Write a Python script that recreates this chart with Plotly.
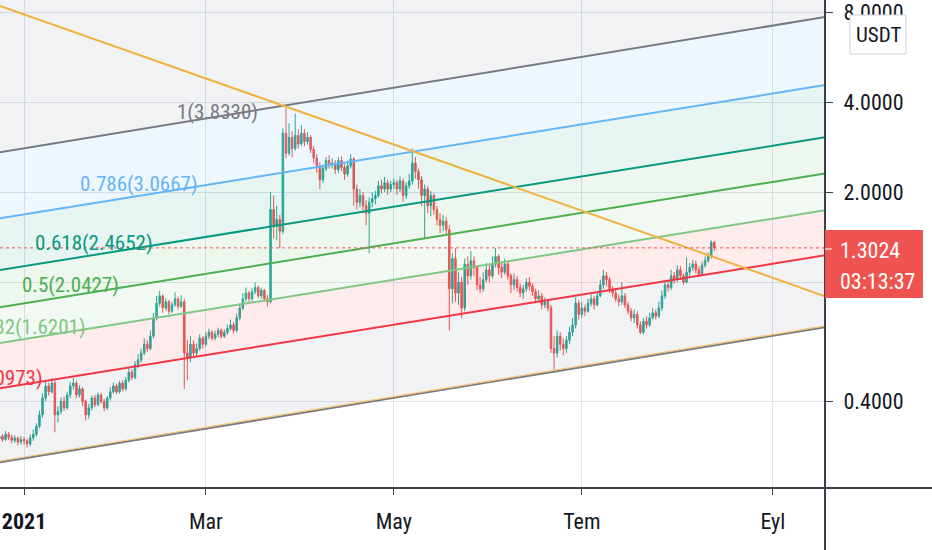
import pandas as pd
import plotly.graph_objects as go

# bougies journalières : 23 déc 2020 -> 13 août 2021
first_open = 0.296
closes = [
    # dec
    0.300, 0.305, 0.298, 0.310, 0.303, 0.296, 0.301, 0.292, 0.298,
    # jan
    0.295, 0.288, 0.302, 0.310, 0.330, 0.360, 0.410, 0.450, 0.430, 0.460,
    0.360, 0.370, 0.400, 0.380, 0.420, 0.450, 0.460, 0.420, 0.440, 0.400,
    0.360, 0.380, 0.410, 0.390, 0.420, 0.400, 0.380, 0.410, 0.430, 0.450, 0.430,
    # feb
    0.460, 0.440, 0.470, 0.500, 0.480, 0.530, 0.550, 0.580, 0.620, 0.600,
    0.660, 0.760, 0.850, 0.900, 0.820, 0.860, 0.800, 0.840, 0.880, 0.830,
    0.860, 0.580, 0.560, 0.620, 0.580, 0.600, 0.650, 0.620,
    # mar
    0.660, 0.680, 0.650, 0.670, 0.690, 0.660, 0.680, 0.700, 0.720, 0.690,
    0.760, 0.820, 0.880, 0.920, 0.880, 0.930, 0.960, 0.900, 0.940, 0.880,
    0.860, 1.750, 1.550, 1.620, 1.480, 3.150, 2.700, 3.050, 2.800, 3.100, 2.900,
    # apr
    3.150, 2.950, 3.050, 2.780, 2.600, 2.450, 2.200, 2.400, 2.550, 2.480,
    2.500, 2.380, 2.550, 2.420, 2.300, 2.450, 2.580, 2.050, 1.850, 1.950,
    1.800, 1.700, 1.850, 1.900, 1.950, 2.100, 2.050, 2.150, 2.050, 2.120,
    # may
    2.150, 2.050, 2.180, 1.950, 2.100, 2.180, 2.500, 2.350, 2.200, 1.950,
    2.050, 1.800, 1.950, 1.750, 1.620, 1.550, 1.600, 1.500, 0.950, 1.200,
    0.920, 1.000, 0.820, 1.150, 1.050, 1.180, 1.120, 0.980, 0.950, 1.020, 1.100,
    # jun
    1.050, 1.150, 1.220, 1.120, 1.080, 1.150, 1.050, 0.980, 1.020, 0.960,
    0.920, 0.950, 1.000, 0.970, 0.930, 0.880, 0.900, 0.840, 0.860, 0.820,
    0.600, 0.580, 0.660, 0.620, 0.600, 0.640, 0.680, 0.720, 0.850, 0.780,
    # jul
    0.820, 0.800, 0.850, 0.880, 0.840, 0.900, 0.980, 1.050, 1.020, 0.950,
    0.920, 0.880, 0.860, 0.900, 0.840, 0.800, 0.760, 0.780, 0.720, 0.680,
    0.740, 0.720, 0.760, 0.790, 0.770, 0.820, 0.900, 0.980, 0.960, 1.050, 1.020,
    # aug
    1.100, 1.050, 1.000, 1.080, 1.120, 1.150, 1.100, 1.060, 1.140, 1.180,
    1.220, 1.360, 1.3024,
]
highs = [
    0.312, 0.314, 0.311, 0.318, 0.316, 0.309, 0.308, 0.305, 0.306,
    0.304, 0.300, 0.310, 0.322, 0.338, 0.372, 0.425, 0.470, 0.462, 0.478,
    0.468, 0.385, 0.412, 0.415, 0.430, 0.465, 0.478, 0.468, 0.452, 0.446,
    0.405, 0.392, 0.418, 0.420, 0.428, 0.426, 0.408, 0.416, 0.446, 0.462, 0.458,
    0.468, 0.470, 0.482, 0.520, 0.512, 0.545, 0.575, 0.600, 0.650, 0.640,
    0.690, 0.790, 0.900, 0.935, 0.912, 0.885, 0.872, 0.860, 0.925, 0.895,
    0.905, 0.880, 0.640, 0.660, 0.640, 0.625, 0.670, 0.660,
    0.680, 0.700, 0.690, 0.688, 0.705, 0.700, 0.695, 0.722, 0.750, 0.735,
    0.785, 0.850, 0.920, 0.960, 0.935, 0.955, 1.000, 0.975, 0.960, 0.950,
    0.905, 2.000, 1.950, 1.800, 1.680, 3.270, 3.833, 3.400, 3.200, 3.660, 3.250,
    3.350, 3.250, 3.180, 3.100, 2.850, 2.680, 2.520, 2.480, 2.620, 2.660,
    2.600, 2.560, 2.620, 2.640, 2.480, 2.550, 2.680, 2.620, 2.120, 2.050,
    2.000, 1.880, 1.920, 2.000, 2.020, 2.180, 2.200, 2.250, 2.200, 2.180,
    2.220, 2.200, 2.260, 2.220, 2.160, 2.300, 2.800, 2.620, 2.400, 2.260,
    2.120, 2.100, 2.020, 1.980, 1.800, 1.700, 1.680, 1.650, 1.550, 1.250,
    1.300, 1.080, 1.040, 1.200, 1.220, 1.270, 1.220, 1.140, 1.040, 1.080, 1.160,
    1.140, 1.220, 1.300, 1.240, 1.160, 1.200, 1.180, 1.070, 1.070, 1.050,
    0.990, 0.980, 1.030, 1.040, 0.990, 0.950, 0.940, 0.920, 0.890, 0.880,
    0.840, 0.660, 0.690, 0.680, 0.650, 0.660, 0.710, 0.760, 0.890, 0.870,
    0.860, 0.840, 0.880, 0.910, 0.900, 0.930, 1.020, 1.100, 1.080, 1.040,
    0.970, 0.950, 0.910, 1.000, 0.920, 0.860, 0.820, 0.810, 0.800, 0.740,
    0.760, 0.770, 0.790, 0.820, 0.810, 0.860, 0.940, 1.010, 1.010, 1.100, 1.080,
    1.140, 1.130, 1.070, 1.210, 1.160, 1.190, 1.180, 1.130, 1.170, 1.220,
    1.260, 1.380, 1.370,
]
lows = [
    0.290, 0.294, 0.292, 0.295, 0.297, 0.289, 0.290, 0.285, 0.287,
    0.286, 0.280, 0.283, 0.295, 0.305, 0.325, 0.352, 0.400, 0.418, 0.425,
    0.315, 0.340, 0.362, 0.372, 0.375, 0.410, 0.438, 0.410, 0.412, 0.385,
    0.345, 0.350, 0.372, 0.382, 0.384, 0.392, 0.370, 0.374, 0.402, 0.424, 0.422,
    0.424, 0.432, 0.434, 0.462, 0.470, 0.474, 0.515, 0.538, 0.570, 0.585,
    0.592, 0.650, 0.745, 0.830, 0.790, 0.805, 0.780, 0.790, 0.828, 0.810,
    0.820, 0.440, 0.470, 0.540, 0.560, 0.565, 0.590, 0.600,
    0.610, 0.645, 0.638, 0.640, 0.655, 0.650, 0.652, 0.668, 0.690, 0.675,
    0.680, 0.745, 0.805, 0.860, 0.860, 0.865, 0.910, 0.885, 0.880, 0.860,
    0.830, 0.850, 1.400, 1.380, 1.300, 1.450, 2.600, 2.650, 2.620, 2.750, 2.800,
    2.850, 2.850, 2.880, 2.700, 2.500, 2.320, 2.050, 2.150, 2.350, 2.400,
    2.400, 2.300, 2.320, 2.350, 2.200, 2.250, 2.400, 1.800, 1.750, 1.780,
    1.700, 1.550, 1.250, 1.780, 1.820, 1.920, 1.980, 2.000, 1.960, 2.000,
    2.050, 1.960, 2.000, 1.860, 1.900, 2.050, 2.120, 2.220, 2.050, 1.800,
    1.400, 1.700, 1.660, 1.680, 1.550, 1.460, 1.480, 1.440, 0.690, 0.850,
    0.860, 0.840, 0.760, 0.800, 0.980, 1.020, 1.050, 0.940, 0.920, 0.930, 1.000,
    1.000, 1.030, 1.120, 1.060, 1.030, 1.060, 1.020, 0.920, 0.940, 0.930,
    0.890, 0.880, 0.930, 0.940, 0.900, 0.850, 0.860, 0.810, 0.820, 0.800,
    0.580, 0.500, 0.560, 0.590, 0.570, 0.580, 0.620, 0.660, 0.700, 0.750,
    0.760, 0.770, 0.790, 0.830, 0.810, 0.830, 0.890, 0.950, 0.970, 0.920,
    0.890, 0.860, 0.830, 0.840, 0.820, 0.780, 0.740, 0.730, 0.700, 0.670,
    0.670, 0.700, 0.710, 0.750, 0.750, 0.760, 0.800, 0.880, 0.930, 0.940, 0.990,
    1.000, 1.020, 0.980, 0.990, 1.050, 1.090, 1.070, 1.040, 1.050, 1.120,
    1.160, 1.200, 1.270,
]
# ouverture = clôture de la veille
opens = [first_open] + closes[:-1]
dates = pd.date_range("2020-12-23", periods=len(closes), freq="D")

# canal de Fibonacci : niveau, prix affiché, prix au bord gauche / droit
fib_levels = [1, 0.786, 0.618, 0.5, 0.382, 0.236, 0]
fib_prices = [3.8330, 3.0667, 2.4652, 2.0427, 1.6201, 1.0973, 0.2524]
fib_left = [2.72, 1.637, 1.098, 0.825, 0.626, 0.442, 0.250]
fib_right = [7.70, 4.56, 3.05, 2.31, 1.74, 1.23, 0.707]
fib_colors = ["#787b86", "#64b5f6", "#089981", "#4caf50", "#81c784", "#f23645", "#787b86"]

# ligne de tendance orange
trend_left, trend_right = 8.38, 0.898

x_left, x_right = "2020-12-24 04:48", "2021-09-17 22:00"
tick_dates = ["2021-01-01", "2021-03-01", "2021-05-01", "2021-07-01", "2021-09-01"]
tick_labels = ["<b>2021</b>", "Mar", "May", "Tem", "Eyl"]
y_ticks = [0.4, 1, 2, 4, 8]
y_labels = ["0.4000", "", "2.0000", "4.0000", "8.0000"]

FONT = "Liberation Sans Narrow, Roboto Condensed, DejaVu Sans Condensed, Roboto, sans-serif"
PW, PH = 825, 488  # taille de la zone de tracé en pixels


def px(x):
    return x / PW


def py(y):
    return (PH - y) / PH


def rgba(hexcol, a):
    h = hexcol.lstrip("#")
    return "rgba(%d,%d,%d,%.2f)" % (int(h[0:2], 16), int(h[2:4], 16), int(h[4:6], 16), a)


fig = go.Figure()

# bandes colorées (du bas vers le haut), couleur = niveau inférieur
order = list(range(len(fib_levels)))[::-1]
for k, i in enumerate(order):
    if k == 0:
        fig.add_trace(go.Scatter(x=[x_left, x_right], y=[fib_left[i], fib_right[i]],
                                 mode="lines", line=dict(width=0), hoverinfo="skip"))
    else:
        below = order[k - 1]
        fig.add_trace(go.Scatter(x=[x_left, x_right], y=[fib_left[i], fib_right[i]],
                                 mode="lines", line=dict(width=0), fill="tonexty",
                                 fillcolor=rgba(fib_colors[below], 0.10), hoverinfo="skip"))
# bande au-dessus du niveau 1
fig.add_trace(go.Scatter(x=[x_left, x_right], y=[20, 20], mode="lines", line=dict(width=0),
                         fill="tonexty", fillcolor=rgba(fib_colors[0], 0.10), hoverinfo="skip"))

# lignes du canal
for i in range(len(fib_levels)):
    fig.add_trace(go.Scatter(x=[x_left, x_right], y=[fib_left[i], fib_right[i]], mode="lines",
                             line=dict(color=fib_colors[i], width=2), hoverinfo="skip"))
# liseré orange sur la ligne du bas
fig.add_trace(go.Scatter(x=[x_left, x_right], y=[fib_left[-1] * 1.01, fib_right[-1] * 1.01],
                         mode="lines", line=dict(color="#f5c46e", width=1.2), hoverinfo="skip"))

# bougies
fig.add_trace(go.Candlestick(
    x=dates, open=opens, high=highs, low=lows, close=closes,
    increasing=dict(line=dict(color="#26a69a", width=1), fillcolor="#26a69a"),
    decreasing=dict(line=dict(color="#ef5350", width=1), fillcolor="#ef5350"),
    whiskerwidth=0, hoverinfo="skip",
))

# tendance orange
fig.add_trace(go.Scatter(x=[x_left, x_right], y=[trend_left, trend_right], mode="lines",
                         line=dict(color="#f0b23e", width=2), hoverinfo="skip"))

# ligne du dernier prix
fig.add_trace(go.Scatter(x=[x_left, x_right], y=[closes[-1], closes[-1]], mode="lines",
                         line=dict(color="#ef5350", width=1, dash="dot"), hoverinfo="skip"))

# étiquettes des niveaux (bout droit en px, centre vertical en px)
label_end = [260, 200, 155, 121, 88, 45]
label_mid = [112, 184, 243, 285, 327, 378]
for i in range(6):
    fig.add_annotation(x=px(label_end[i]), y=py(label_mid[i]), xref="paper", yref="paper",
                       xanchor="right", yanchor="middle", showarrow=False,
                       text="%s(%.4f)" % (fib_levels[i], fib_prices[i]),
                       font=dict(family=FONT, size=21, color=fib_colors[i]))

shapes = []
# axes façon TradingView
shapes.append(dict(type="line", xref="paper", yref="paper", x0=0, x1=px(932), y0=0, y1=0,
                   line=dict(color="#3c404b", width=2), layer="above"))
shapes.append(dict(type="line", xref="paper", yref="paper", x0=1, x1=1, y0=py(550), y1=1,
                   line=dict(color="#3c404b", width=2), layer="above"))
# étiquette du prix courant
shapes.append(dict(type="rect", xref="paper", yref="paper", x0=px(825), x1=px(923),
                   y0=py(298), y1=py(230), fillcolor="#ef5350", line=dict(width=0), layer="above"))
shapes.append(dict(type="line", xref="paper", yref="paper", x0=px(825), x1=px(832),
                   y0=py(249), y1=py(249), line=dict(color="white", width=1), layer="above"))
# boîte USDT
shapes.append(dict(type="rect", xref="paper", yref="paper", x0=px(850), x1=px(906),
                   y0=py(54), y1=py(15), fillcolor="white", line=dict(color="#d1d4dc", width=1),
                   layer="above"))
fig.update_layout(shapes=shapes)

fig.add_annotation(x=px(838), y=py(250), xref="paper", yref="paper", xanchor="left",
                   yanchor="middle", showarrow=False, text="1.3024",
                   font=dict(family=FONT, size=22, color="white"))
fig.add_annotation(x=px(838), y=py(281), xref="paper", yref="paper", xanchor="left",
                   yanchor="middle", showarrow=False, text="03:13:37",
                   font=dict(family=FONT, size=22, color="white"))
fig.add_annotation(x=px(878), y=py(35), xref="paper", yref="paper", xanchor="center",
                   yanchor="middle", showarrow=False, text="USDT",
                   font=dict(family=FONT, size=21, color="#131722"))

fig.update_layout(
    width=932, height=550,
    margin=dict(l=0, r=107, t=0, b=62),
    paper_bgcolor="white", plot_bgcolor="white",
    showlegend=False,
    font=dict(family=FONT, size=22, color="#131722"),
)
fig.update_xaxes(
    type="date", range=[x_left, x_right], rangeslider=dict(visible=False),
    tickvals=tick_dates, ticktext=tick_labels,
    showgrid=True, gridcolor="#e0e3eb", gridwidth=1,
    ticks="outside", ticklen=6, tickcolor="#3c404b", tickwidth=1,
    ticklabelstandoff=8, showline=False, zeroline=False,
    tickfont=dict(family=FONT, size=22, color="#131722"),
)
fig.update_yaxes(
    type="log", range=[-0.688, 0.9435], side="right",
    tickvals=y_ticks, ticktext=y_labels, ticklabeloverflow="allow",
    showgrid=True, gridcolor="#e0e3eb", gridwidth=1,
    ticks="outside", ticklen=7, tickcolor="#3c404b", tickwidth=1,
    ticklabelstandoff=6, showline=False, zeroline=False,
    tickfont=dict(family=FONT, size=22, color="#131722"),
)

# la page a une marge de 8 px par défaut : on la retire ; pas de barre d'outils
fig.write_html("out.html", config={"displayModeBar": False},
               post_script="document.body.style.margin='0';")
